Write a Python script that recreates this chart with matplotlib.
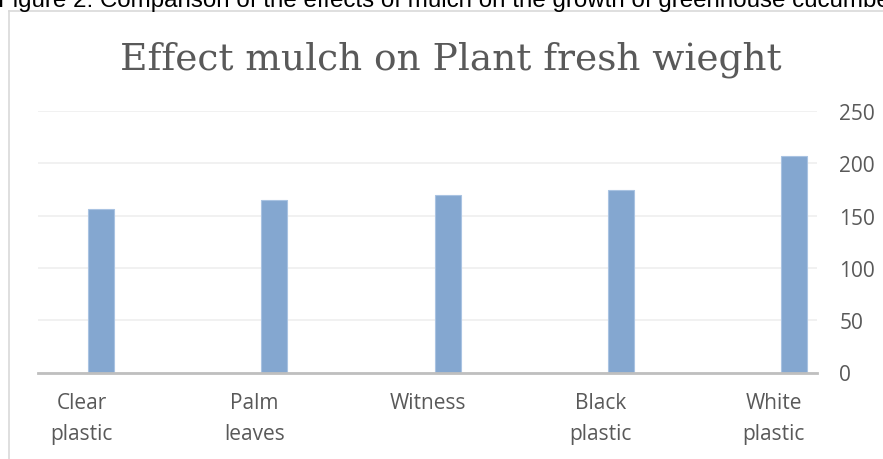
import matplotlib.pyplot as plt
from matplotlib.lines import Line2D

# mean plant fresh weight (g) per mulch treatment
treatments = ["Clear\nplastic", "Palm\nleaves", "Witness", "Black\nplastic", "White\nplastic"]
fresh_weight = [156, 165, 170, 174.5, 207]
y_ticks = [0, 50, 100, 150, 200, 250]

BAR_COLOR = "#84A7D0"
TEXT_GRAY = "#595959"

W, H = 883, 460
fig = plt.figure(figsize=(W / 100, H / 100), dpi=100)

# chart frame (only top and left edges are in view)
fig.add_artist(Line2D([9 / W, 9 / W], [0, 1 - 12 / H], color="#D9D9D9", lw=1.2))
fig.add_artist(Line2D([9 / W, 1], [1 - 12 / H, 1 - 12 / H], color="#D9D9D9", lw=1.2))

# caption above the chart, clipped by the top edge
fig.text(-2 / W, 1 - 7 / H,
         "Figure 2: Comparison of the effects of mulch on the growth of greenhouse cucumber",
         family="Liberation Sans", fontsize=17.35, color="black", va="baseline", ha="left")

fig.text(451 / W, 1 - 70 / H, "Effect mulch on Plant fresh wieght",
         family="DejaVu Serif", fontsize=27, color=TEXT_GRAY, ha="center", va="baseline")

ax = fig.add_axes([38 / W, (H - 373.5) / H, (817 - 38) / W, 261.5 / H])
x = list(range(len(treatments)))
ax.bar([i + 0.115 for i in x], fresh_weight, width=0.15, color=BAR_COLOR,
       edgecolor="#A9C3E2", linewidth=0.8, zorder=3)

ax.set_xlim(-0.251, 4.249)
ax.set_ylim(0, 250)
ax.set_yticks(y_ticks)
ax.yaxis.tick_right()
ax.grid(axis="y", color="#F0F0F0", lw=1.3, zorder=0)
ax.set_xticks(x)
ax.set_xticklabels(treatments, linespacing=1.6)

for side in ("top", "right", "left"):
    ax.spines[side].set_visible(False)
ax.spines["bottom"].set_color("#BFBFBF")
ax.spines["bottom"].set_linewidth(2)
ax.spines["bottom"].set_zorder(4)

ax.tick_params(axis="y", length=0, pad=16, labelsize=15, labelcolor=TEXT_GRAY)
ax.tick_params(axis="x", length=0, pad=14, labelsize=15, labelcolor=TEXT_GRAY)
for lbl in ax.get_xticklabels() + ax.get_yticklabels():
    lbl.set_family("Open Sans")

fig.savefig("out.png", dpi=100)
